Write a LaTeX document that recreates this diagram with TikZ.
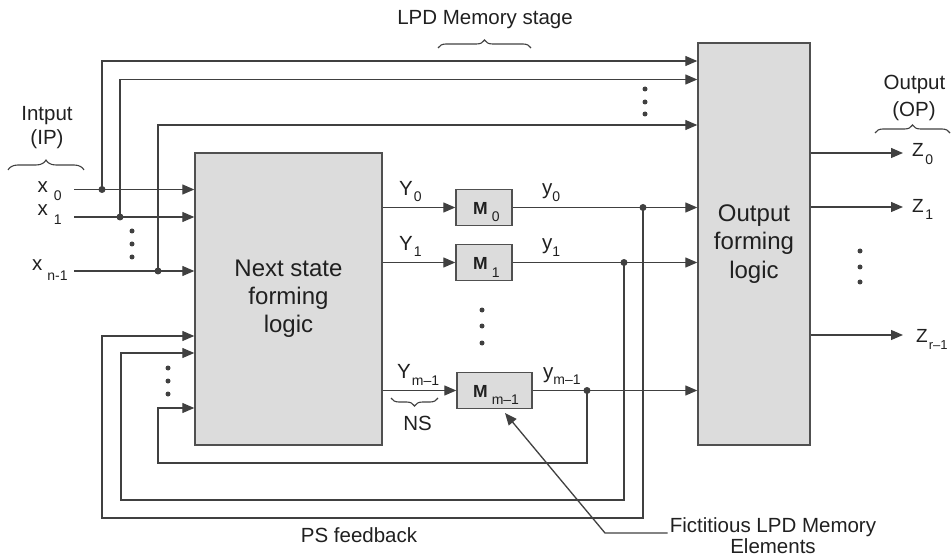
\documentclass[tikz,border=0pt]{standalone}
\usepackage{fontspec}
\setmainfont{Liberation Sans}
\usetikzlibrary{arrows.meta,decorations.pathreplacing,calc}
\definecolor{linec}{HTML}{404040}
\definecolor{boxf}{HTML}{DCDCDC}
\definecolor{boxd}{HTML}{505050}
\definecolor{txtc}{HTML}{202020}
\newcommand{\fsz}[2]{\fontsize{#1}{#2}\selectfont}
\newcommand{\slab}[5]{#1\hspace{#3}\raisebox{-#4}{\fsz{#5}{#5}#2}}
\tikzset{
 wire/.style={draw=linec, line width=1.3pt},
 arr/.style={wire, -{Triangle[length=12pt,width=10pt]}},
 blk/.style={draw=boxd, fill=boxf, line width=1.4pt, inner sep=0pt, text=txtc},
 jdot/.style={circle, fill=linec, inner sep=0pt, minimum size=7pt},
 edot/.style={circle, fill=linec, inner sep=0pt, minimum size=5pt},
 lbl/.style={inner sep=0pt, text=txtc, font=\fsz{20.5}{24}},
 brc/.style={draw=linec, line width=1.1pt, decorate, decoration={brace, amplitude=#1}},
}
\begin{document}
\begin{tikzpicture}[x=1pt,y=-1pt]
\useasboundingbox (0,0) rectangle (951,556);
% blocks
\node[blk, minimum width=187pt, minimum height=292pt, font=\fsz{24}{28}, align=center] (ns) at (288.5,299) {Next state\\forming\\logic};
\node[blk, minimum width=112pt, minimum height=402pt, font=\fsz{24}{28.5}, align=center] (ob) at (754,244) {Output\\forming\\logic};
\node[blk, minimum width=56pt, minimum height=36pt] (m0) at (484,207.5) {};
\node[blk, minimum width=56pt, minimum height=36pt] (m1) at (484,262.5) {};
\node[blk, minimum width=75pt, minimum height=36pt] (mm) at (494.5,390.5) {};
% box labels
\node[lbl, anchor=base west, font=\fsz{17.5}{18}\bfseries] (m0l) at (473,215) {\slab{M}{\mdseries 0}{4pt}{7pt}{14}};
\node[lbl, anchor=base west, font=\fsz{17.5}{18}\bfseries] (m1l) at (473,270) {\slab{M}{\mdseries 1}{4pt}{7pt}{14}};
\node[lbl, anchor=base west, font=\fsz{17.5}{18}\bfseries] (mml) at (473,397) {\slab{M}{\mdseries m--1}{4pt}{7pt}{14}};
% input lines
\coordinate (x0s) at (74,189.5);
\coordinate (x1s) at (74,217);
\coordinate (xns) at (74,271);
\node[jdot] (j0) at (102,189.5) {};
\node[jdot] (j1) at (120,217) {};
\node[jdot] (jn) at (158,271) {};
\coordinate (c0) at (102,61);
\coordinate (c1) at (120,79.5);
\coordinate (cn) at (158,125);
\draw[arr] (x0s) -- (x0s -| ns.west);
\draw[arr] (x1s) -- (x1s -| ns.west);
\draw[arr] (xns) -- (xns -| ns.west);
\draw[arr] (j0.center) -- (c0) -- (c0 -| ob.west);
\draw[arr] (j1.center) -- (c1) -- (c1 -| ob.west);
\draw[arr] (jn.center) -- (cn) -- (cn -| ob.west);
% next state lines
\draw[arr] (ns.east |- m0) -- (m0.west);
\draw[arr] (ns.east |- m1) -- (m1.west);
\draw[arr] (ns.east |- mm) -- (mm.west);
% present state lines
\draw[arr] (m0.east) -- (m0.east -| ob.west);
\draw[arr] (m1.east) -- (m1.east -| ob.west);
\draw[arr] (mm.east) -- (mm.east -| ob.west);
\node[jdot] (k0) at (643,207.5) {};
\node[jdot] (k1) at (624,262.5) {};
\node[jdot] (km) at (587,390.5) {};
% feedback
\coordinate (b0) at (102,518);
\coordinate (b1) at (121,500);
\coordinate (bm) at (158,463);
\coordinate (e0) at (102,336);
\coordinate (e1) at (121,353);
\coordinate (em) at (158,408);
\draw[arr] (k0.center) |- (b0) -- (e0) -- (e0 -| ns.west);
\draw[arr] (k1.center) |- (b1) -- (e1) -- (e1 -| ns.west);
\draw[arr] (km.center) |- (bm) -- (em) -- (em -| ns.west);
% outputs
\coordinate (z0) at (903,153);
\coordinate (z1) at (903,207);
\coordinate (zr) at (903,335);
\draw[arr] (z0 -| ob.east) -- (z0);
\draw[arr] (z1 -| ob.east) -- (z1);
\draw[arr] (zr -| ob.east) -- (zr);
% ellipsis dots
\foreach \yy [count=\i] in {231,244,257} \node[edot] (da\i) at (132,\yy) {};
\foreach \yy [count=\i] in {368,381,394} \node[edot] (db\i) at (168,\yy) {};
\foreach \yy [count=\i] in {89,102,114} \node[edot] (dc\i) at (645,\yy) {};
\foreach \yy [count=\i] in {310,326,343} \node[edot] (dd\i) at (482,\yy) {};
\foreach \yy [count=\i] in {251,267,282} \node[edot] (de\i) at (860,\yy) {};
% input labels
\node[lbl, anchor=base west] (lx0) at (37.5,193) {\slab{x}{0}{6pt}{8pt}{14}};
\node[lbl, anchor=base west] (lx1) at (37.5,216) {\slab{x}{1}{6pt}{9pt}{14}};
\node[lbl, anchor=base west] (lxn) at (32,271) {\slab{x}{n-1}{5pt}{10pt}{14}};
\node[lbl, anchor=base] (lin) at (47,121) {Intput};
\node[lbl, anchor=base] (lip) at (47,145) {(IP)};
\draw[brc=10pt] (8,170) -- (84,170);
% Y labels
\node[lbl, anchor=base west] (ly0) at (399,196) {\slab{Y}{0}{1pt}{6pt}{14}};
\node[lbl, anchor=base west] (ly1) at (399,251) {\slab{Y}{1}{1pt}{6pt}{14}};
\node[lbl, anchor=base west] (lym) at (397,378) {\slab{Y}{m--1}{1pt}{7pt}{14}};
\draw[brc=8pt] (438,398) -- (391,398);
\node[lbl, anchor=base] (lns) at (417.5,430) {NS};
% y labels
\node[lbl, anchor=base west] (ls0) at (542,195) {\slab{y}{0}{0pt}{7pt}{14}};
\node[lbl, anchor=base west] (ls1) at (542,250) {\slab{y}{1}{0pt}{7pt}{14}};
\node[lbl, anchor=base west] (lsm) at (543,378) {\slab{y}{m--1}{0pt}{6pt}{14}};
% Z labels
\node[lbl, anchor=base west, font=\fsz{19}{20}] (lz0) at (912,157) {\slab{Z}{0}{1.5pt}{8pt}{14}};
\node[lbl, anchor=base west, font=\fsz{19}{20}] (lz1) at (912,213) {\slab{Z}{1}{1.5pt}{7pt}{14}};
\node[lbl, anchor=base west, font=\fsz{19}{20}] (lzr) at (916,342) {\slab{Z}{r--1}{1pt}{7pt}{13}};
\node[lbl, anchor=base] (lout) at (914.5,90) {Output};
\node[lbl, anchor=base] (lop) at (914,117) {(OP)};
\draw[brc=8pt] (875,133) -- (950,133);
% top label
\node[lbl, anchor=base] (lpd) at (485,25) {LPD Memory stage};
\draw[brc=8pt] (438,48) -- (531,48);
% bottom labels
\node[lbl, anchor=base] (lps) at (359,542) {PS feedback};
\node[lbl, anchor=base, align=center, font=\fsz{20.5}{21}] (fict) at (773,553) {Fictitious LPD Memory\\Elements};
\coordinate (fk) at (605,533);
\coordinate (ft) at (505,413);
\draw[arr] ([xshift=-2pt]fict.west |- fk) -- (fk) -- (ft);
\end{tikzpicture}
\end{document}
